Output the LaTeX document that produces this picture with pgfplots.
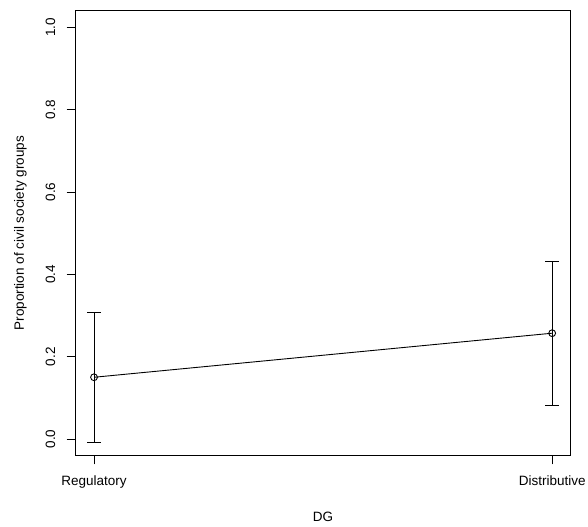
\documentclass[border=0pt]{standalone}
\usepackage{pgfplots}
\pgfplotsset{compat=1.18}
\usepackage{fontspec}
\setmainfont{Liberation Sans}
\newcommand{\rfont}{\fontsize{13.5bp}{16bp}\selectfont}
\begin{document}
\begin{tikzpicture}
\useasboundingbox (0,0) rectangle (588bp,527bp);
\begin{axis}[
  at={(75.7bp,71.5bp)}, anchor=south west,
  scale only axis, width=494.8bp, height=444.7bp,
  xmin=0.96, xmax=2.04, ymin=-0.04, ymax=1.04,
  xtick={1,2}, xticklabels={Regulatory,Distributive},
  ytick={0,0.2,0.4,0.6,0.8,1.0},
  /pgf/number format/fixed, /pgf/number format/fixed zerofill,
  /pgf/number format/precision=1, /pgf/number format/assume math mode=true,
  yticklabel style={xshift=-11.2bp, rotate=90, anchor=south, inner sep=0pt},
  xticklabel style={yshift=-21bp, anchor=base, inner sep=0pt},
  tick label style={font=\rfont},
  label style={font=\rfont},
  tick align=outside, tick pos=left, major tick length=9bp,
  tick style={black, line width=0.8bp},
  axis line style={line width=0.8bp},
  xlabel={DG},
  ylabel={Proportion of civil society groups},
  xlabel style={at={(axis description cs:0.5,-0.1484)}, anchor=base},
  ylabel style={at={(axis description cs:-0.1045,0.5)}, anchor=base},
]
\addplot[black, line width=0.9bp, mark=o, mark size=3.4bp,
  error bars/.cd, y dir=both, y explicit,
  error bar style={line width=0.9bp},
  error mark options={rotate=90, mark size=6.7bp, line width=0.9bp}]
  coordinates {
  (1,0.150) +- (0,0.158)
  (2,0.257) +- (0,0.175)
};
\end{axis}
\end{tikzpicture}
\end{document}
